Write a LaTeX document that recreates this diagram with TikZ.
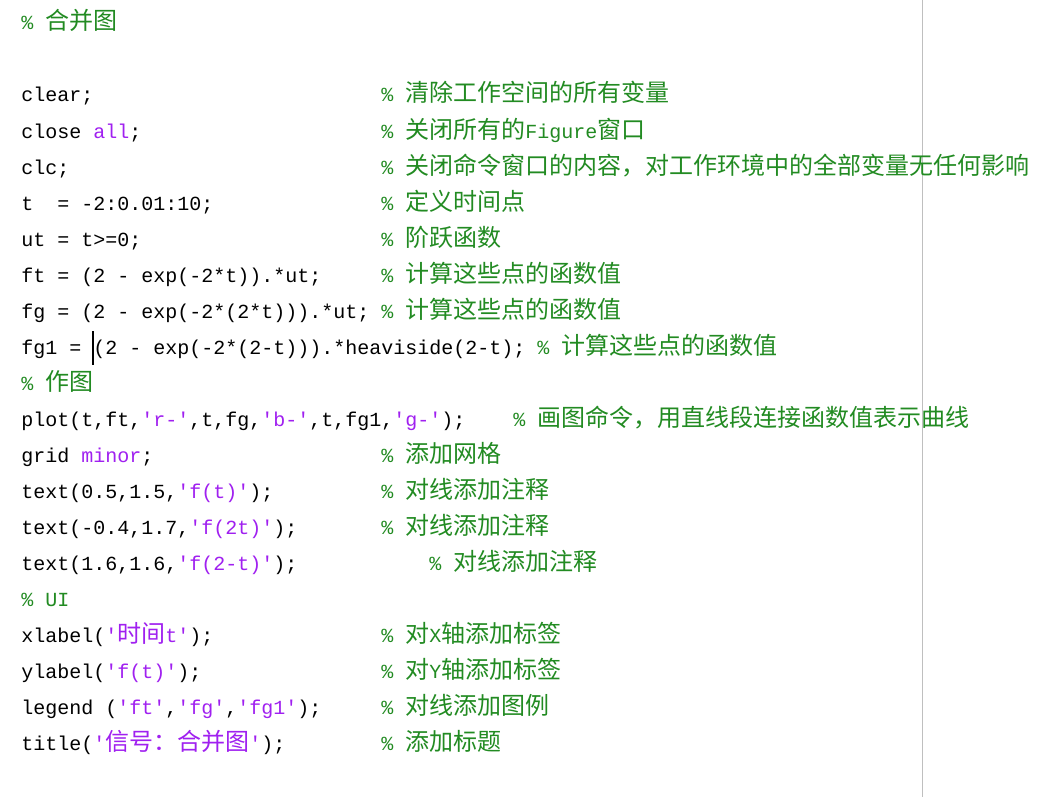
\documentclass[tikz,border=0pt]{standalone}
\usepackage{xcolor}
\usepackage{fontspec}
\usepackage{tikz}
\setmonofont{Liberation Mono}
\newfontfamily\cjk[Scale=1.2]{Noto Sans CJK SC}
\newcommand\zh[1]{{\cjk #1}}
\definecolor{cmtgreen}{RGB}{34,139,34}
\definecolor{strpurple}{RGB}{160,32,240}
\newcommand\str[1]{\textcolor{strpurple}{#1}}

\tikzset{
    codeline/.style={anchor=base west, inner sep=0pt, font=\ttfamily\fontsize{10}{12}\selectfont},
    cmtline/.style={codeline, text=cmtgreen}
}

\begin{document}
\begin{tikzpicture}[x=0.5pt,y=-0.5pt]
                \fill[white] (0,0) rectangle (1053,797);
                \useasboundingbox (0,0) rectangle (1053,797);

                % right margin line
                \draw[
                    line width=0.5pt,
                    color=black!25
                    ] (922,0) -- (922,797);

                \node[cmtline] (head) at (21,30) {\% \zh{合并图}};

                \node[codeline] (clear) at (21,102) {clear;};
                \node[cmtline] (clearc) at (381,102) {\% \zh{清除工作空间的所有变量}};

                \node[codeline] (close) at (21,138) {close \str{all};};
                \node[cmtline] (closec) at (381,138) {\% \zh{关闭所有的}Figure\zh{窗口}};

                \node[codeline] (clc) at (21,174) {clc;};
                \node[cmtline] (clcc) at (381,174) {\% \zh{关闭命令窗口的内容，对工作环境中的全部变量无任何影响}};

                \node[codeline] (tdef) at (21,210) {t~ = -2:0.01:10;};
                \node[cmtline] (tdefc) at (381,210) {\% \zh{定义时间点}};

                \node[codeline] (ut) at (21,246) {ut = t>=0;};
                \node[cmtline] (utc) at (381,246) {\% \zh{阶跃函数}};

                \node[codeline] (ft) at (21,282) {ft = (2 - exp(-2*t)).*ut;};
                \node[cmtline] (ftc) at (381,282) {\% \zh{计算这些点的函数值}};

                \node[codeline] (fg) at (21,318) {fg = (2 - exp(-2*(2*t))).*ut;};
                \node[cmtline] (fgc) at (381,318) {\% \zh{计算这些点的函数值}};

                \node[codeline] (fgone) at (21,354) {fg1 = (2 - exp(-2*(2-t))).*heaviside(2-t);};
                \node[cmtline] (fgonec) at (537,354) {\% \zh{计算这些点的函数值}};

                % text cursor
                \draw[
                    line width=0.6pt
                    ] (93,331) -- (93,365);

                \node[cmtline] (plothead) at (21,390) {\% \zh{作图}};

                \node[codeline] (plot) at (21,426) {plot(t,ft,\str{'r-'},t,fg,\str{'b-'},t,fg1,\str{'g-'});};
                \node[cmtline] (plotc) at (513,426) {\% \zh{画图命令，用直线段连接函数值表示曲线}};

                \node[codeline] (grid) at (21,462) {grid \str{minor};};
                \node[cmtline] (gridc) at (381,462) {\% \zh{添加网格}};

                \node[codeline] (textone) at (21,498) {text(0.5,1.5,\str{'f(t)'});};
                \node[cmtline] (textonec) at (381,498) {\% \zh{对线添加注释}};

                \node[codeline] (texttwo) at (21,534) {text(-0.4,1.7,\str{'f(2t)'});};
                \node[cmtline] (texttwoc) at (381,534) {\% \zh{对线添加注释}};

                \node[codeline] (textthree) at (21,570) {text(1.6,1.6,\str{'f(2-t)'});};
                \node[cmtline] (textthreec) at (429,570) {\% \zh{对线添加注释}};

                \node[cmtline] (uihead) at (21,606) {\% UI};

                \node[codeline] (xlab) at (21,642) {xlabel(\str{'\zh{时间}t'});};
                \node[cmtline] (xlabc) at (381,642) {\% \zh{对}X\zh{轴添加标签}};

                \node[codeline] (ylab) at (21,678) {ylabel(\str{'f(t)'});};
                \node[cmtline] (ylabc) at (381,678) {\% \zh{对}Y\zh{轴添加标签}};

                \node[codeline] (leg) at (21,714) {legend (\str{'ft'},\str{'fg'},\str{'fg1'});};
                \node[cmtline] (legc) at (381,714) {\% \zh{对线添加图例}};

                \node[codeline] (title) at (21,750) {title(\str{'\zh{信号：合并图}'});};
                \node[cmtline] (titlec) at (381,750) {\% \zh{添加标题}};

\end{tikzpicture}
\end{document}
